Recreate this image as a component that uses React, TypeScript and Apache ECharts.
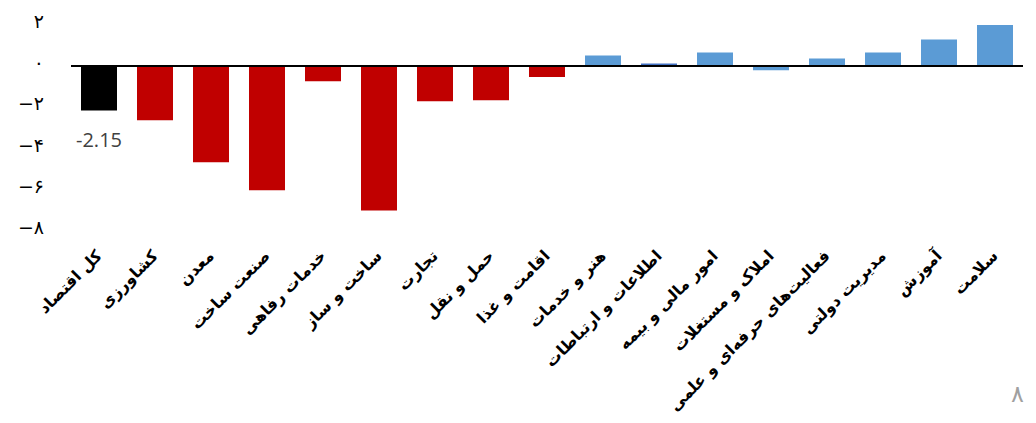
import React, { useEffect, useRef } from "react";
import * as echarts from "echarts";

const categories = [
  "کل اقتصاد",
  "کشاورزی",
  "معدن",
  "صنعت ساخت",
  "خدمات رفاهی",
  "ساخت و ساز",
  "تجارت",
  "حمل و نقل",
  "اقامت و غذا",
  "هنر و خدمات",
  "اطلاعات و ارتباطات",
  "امور مالی و بیمه",
  "املاک و مستغلات",
  "فعالیت‌های حرفه‌ای و علمی",
  "مدیریت دولتی",
  "آموزش",
  "سلامت",
];

const values = [
  -2.15, -2.62, -4.66, -6.02, -0.73, -7.0, -1.7, -1.65, -0.53, 0.52, 0.13, 0.66,
  -0.2, 0.37, 0.66, 1.3, 2.02,
];

const barColors = [
  "#000000",
  "#C00000",
  "#C00000",
  "#C00000",
  "#C00000",
  "#C00000",
  "#C00000",
  "#C00000",
  "#C00000",
  "#5B9BD5",
  "#4472C4",
  "#5B9BD5",
  "#5B9BD5",
  "#5B9BD5",
  "#5B9BD5",
  "#5B9BD5",
  "#5B9BD5",
];

const labeledIndex = 0;
const pageNumber = "۸";

const persianDigits = "۰۱۲۳۴۵۶۷۸۹";
const toPersian = (v: number) => {
  const s = String(Math.abs(v)).replace(/[0-9]/g, (d) => persianDigits[Number(d)]);
  return v < 0 ? "−" + s : s;
};

export default function App() {
  const ref = useRef<HTMLDivElement>(null);

  useEffect(() => {
    if (!ref.current) return;
    const chart = echarts.init(ref.current, undefined, { renderer: "svg" });
    chart.setOption({
      animation: false,
      backgroundColor: "#ffffff",
      grid: {
        left: 71,
        width: 952,
        top: 25,
        height: 206,
        containLabel: false,
        outerBoundsMode: "none",
      },
      xAxis: {
        type: "category",
        data: categories,
        axisLine: { show: false, onZero: false },
        axisTick: { show: false },
        axisLabel: {
          interval: 0,
          rotate: 45,
          margin: 22,
          color: "#000000",
          fontFamily: "DejaVu Sans",
          fontWeight: "bold",
          fontSize: 16,
        },
        splitLine: { show: false },
      },
      yAxis: {
        type: "value",
        min: -8,
        max: 2,
        interval: 2,
        axisLine: { show: false },
        axisTick: { show: false },
        splitLine: { show: false },
        axisLabel: {
          margin: 27,
          color: "#000000",
          fontFamily: "DejaVu Sans",
          fontSize: 19,
          verticalAlign: "bottom",
          lineHeight: 8,
          formatter: (v: number) => toPersian(v),
        },
      },
      series: [
        {
          type: "bar",
          barWidth: 36,
          data: values.map((v, i) => ({
            value: v,
            itemStyle: { color: barColors[i] },
            label:
              i === labeledIndex
                ? {
                    show: true,
                    position: "bottom",
                    distance: 19,
                    color: "#404040",
                    fontFamily: "Open Sans",
                    fontSize: 20,
                    formatter: (p: any) => String(p.value),
                  }
                : { show: false },
          })),
          markLine: {
            silent: true,
            symbol: "none",
            label: { show: false },
            lineStyle: { color: "#000000", width: 2, type: "solid" },
            data: [{ yAxis: 0 }],
          },
        },
      ],
      graphic: [
        {
          type: "text",
          right: 12,
          top: 382,
          style: {
            text: pageNumber,
            fill: "#a0a0a0",
            fontSize: 24,
            fontFamily: "DejaVu Sans",
          },
        },
      ],
    });
    return () => chart.dispose();
  }, []);

  return (
    <div
      ref={ref}
      style={{ position: "fixed", left: 0, top: 0, width: 1036, height: 423 }}
    />
  );
}
